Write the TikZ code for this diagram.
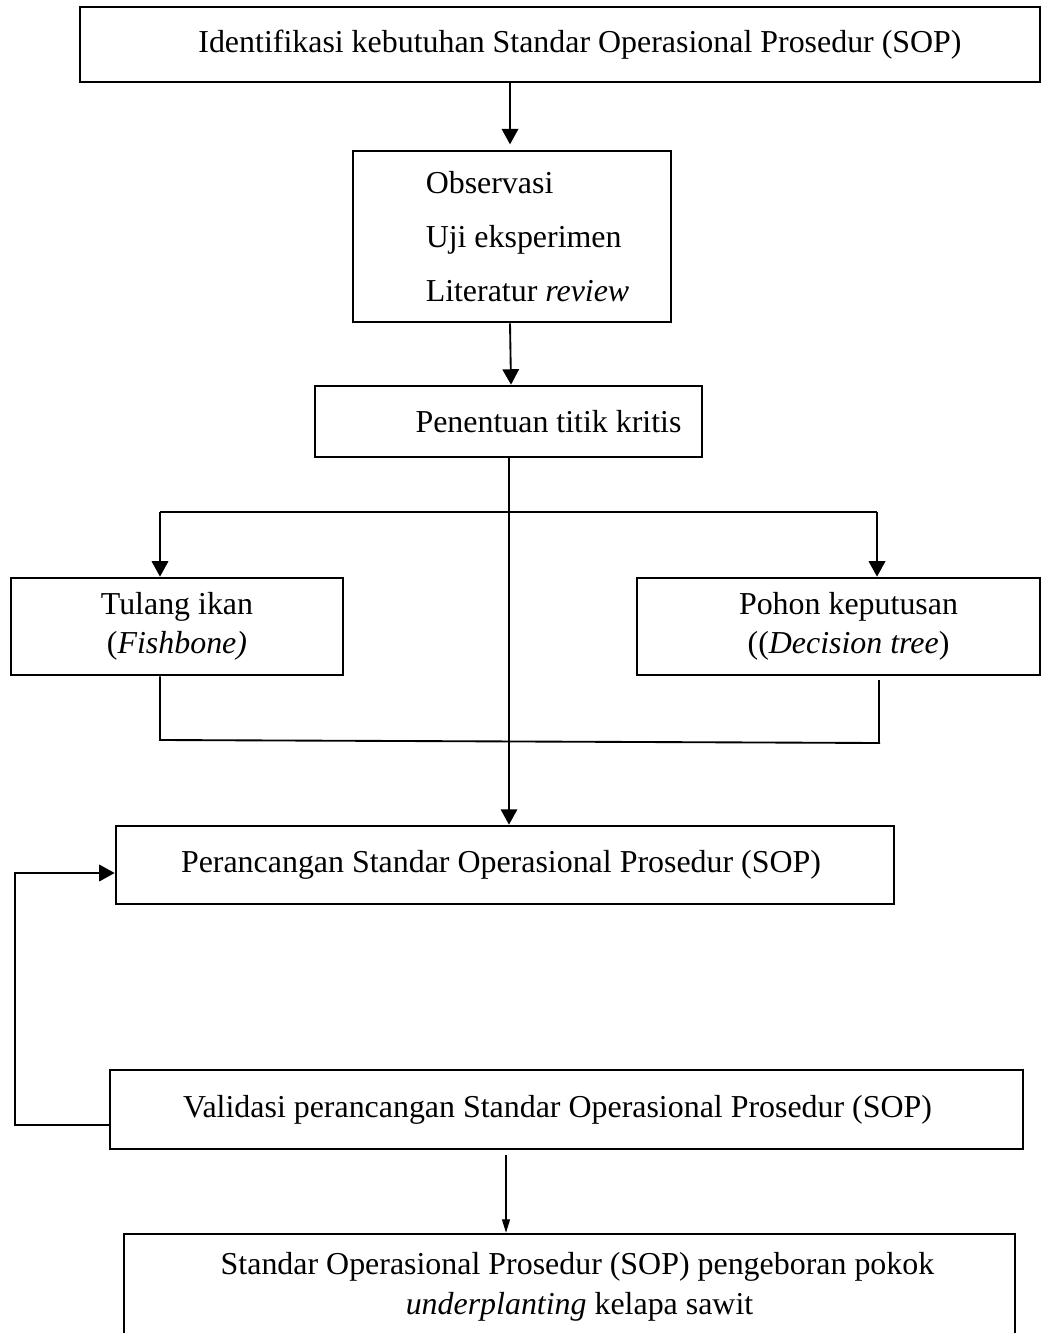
\documentclass[tikz,border=0pt]{standalone}
\usepackage{fontspec}
\setmainfont{Liberation Serif}
\usetikzlibrary{arrows.meta}
\newlength{\pxlen}
\setlength{\pxlen}{0.01322cm}

\begin{document}
\begin{tikzpicture}[x=\pxlen,y=-\pxlen,>={Triangle[length=5.8pt,width=6.2pt]}]
			\useasboundingbox (0,0) rectangle (1042,1333);
			\begin{scope}[every node/.style={rectangle,draw,line width=1pt,inner sep=0pt,align=center,font=\fontsize{12}{14.5}\selectfont}]
				\node (ident) [minimum width=960*\pxlen,minimum height=75*\pxlen] at (560,44.5) {\hspace*{40\pxlen}Identifikasi kebutuhan Standar Operasional Prosedur (SOP)};
				\node (obs) [minimum width=318*\pxlen,minimum height=171*\pxlen,align=left,font=\fontsize{12}{20.3}\selectfont] at (512,236.5) {\hspace*{31\pxlen}Observasi\\\hspace*{31\pxlen}Uji eksperimen\\\hspace*{31\pxlen}Literatur \textit{review}};
				\node (kritis) [minimum width=387*\pxlen,minimum height=71*\pxlen] at (508.5,421.5) {\hspace*{80\pxlen}Penentuan titik kritis};
				\node (tulang) [minimum width=332*\pxlen,minimum height=97*\pxlen] at (177,626.5) {Tulang ikan\\(\textit{Fishbone)}};
				\node (pohon) [minimum width=403*\pxlen,minimum height=97*\pxlen] at (838.5,626.5) {\hspace*{20\pxlen}Pohon keputusan\\\hspace*{20\pxlen}((\textit{Decision tree})};
				\node (rancang) [minimum width=778*\pxlen,minimum height=78*\pxlen] at (505,865) {Perancangan Standar Operasional Prosedur (SOP)\hspace*{8\pxlen}};
				\node (valid) [minimum width=913*\pxlen,minimum height=79*\pxlen] at (566.5,1109.5) {Validasi perancangan Standar Operasional Prosedur (SOP)\hspace*{18\pxlen}};
				\node (hasil) [minimum width=891*\pxlen,minimum height=106*\pxlen,font=\fontsize{12}{15}\selectfont] at (569.5,1287) {\hspace*{16\pxlen}Standar Operasional Prosedur (SOP) pengeboran pokok\\\hspace*{20\pxlen}\textit{underplanting} kelapa sawit};
			\end{scope}
			
			\coordinate (bl) at (160,512);
			\coordinate (br) at (877,512);
			\coordinate (jl) at (160,740);
			\coordinate (jr) at (880,743);
			\coordinate (jt) at (879,680);
			\coordinate (fb1) at (15,1125);
			\coordinate (fb2) at (15,873);
			\coordinate (va) at (506,1155);
			
			\begin{scope}[every edge/.style={draw=black,line width=0.7pt}]
				\path [->,shorten >=2pt] (ident.south -| 510,0) edge (obs.north -| 510,0);
				\path [->] (obs.south -| 510,0) edge (kritis.north -| 511,0);
				\path [->] (kritis.south -| 509,0) edge (rancang.north -| 509,0);
				\path [->] (bl) edge (bl |- tulang.north);
				\path [->] (br) edge (br |- pohon.north);
				%\path (valid) edge (hasil);
			\end{scope}
			
			\draw [line width=0.8pt] (bl) -- (br);
			\draw [line width=0.7pt] (tulang.south -| jl) -- (jl) -- (jr);
			\draw [line width=0.6pt] (jt) -- (jt |- jr);
			\draw [line width=0.7pt,->] (fb1 -| valid.west) -- (fb1) -- (fb2) -- (fb2 -| rancang.west);
			\draw [line width=0.4pt,-{Triangle[length=5pt,width=3pt]}] (va) -- (va |- hasil.north);
\end{tikzpicture}
\end{document}
